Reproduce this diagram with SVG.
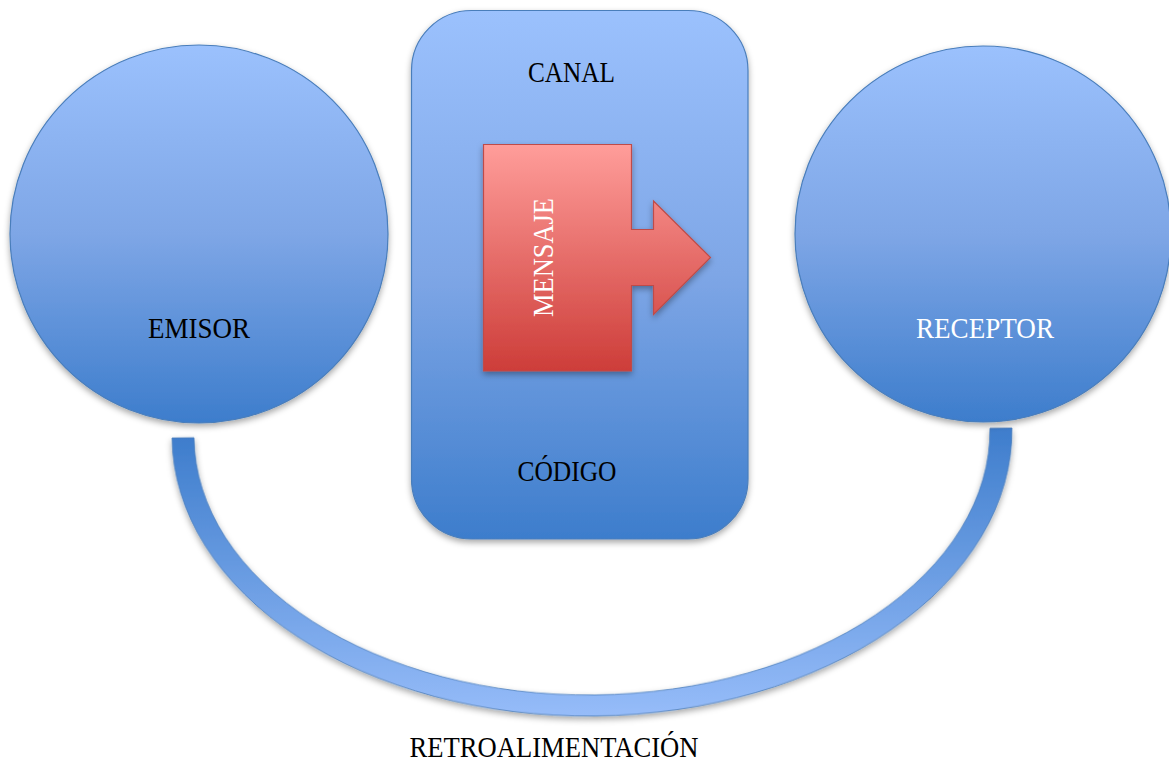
<svg xmlns="http://www.w3.org/2000/svg" width="1169" height="764" viewBox="0 0 1169 764">
<defs>
<linearGradient id="blue" x1="0" y1="0" x2="0" y2="1">
<stop offset="0" stop-color="#9bc1fd"/>
<stop offset="0.5" stop-color="#7ea6e6"/>
<stop offset="1" stop-color="#3d7dcc"/>
</linearGradient>
<linearGradient id="band" x1="0" y1="0" x2="0" y2="1">
<stop offset="0" stop-color="#3e7dcc"/>
<stop offset="1" stop-color="#96bcf9"/>
</linearGradient>
<linearGradient id="red" x1="0" y1="0" x2="0" y2="1">
<stop offset="0" stop-color="#ff9d9a"/>
<stop offset="1" stop-color="#cd3d39"/>
</linearGradient>
<filter id="sh" x="-10%" y="-10%" width="120%" height="125%">
<feDropShadow dx="0" dy="3" stdDeviation="3" flood-color="#000" flood-opacity="0.35"/>
</filter>
</defs>
<style>
.node{stroke:#4a7ebb;stroke-width:1.2;fill:url(#blue);filter:url(#sh)}
.lbl{font-family:"Liberation Serif","DejaVu Serif",serif;font-size:30px;text-anchor:middle;fill:#000}
.w{fill:#fff}
</style>
<g id="connectors">
<path d="M 172 433 A 420 283 0 0 0 1012 433 L 990 433 A 398 262 0 0 1 194 433 Z" transform="rotate(-0.68 592 433)" fill="url(#band)" stroke="#4a7ebb" stroke-width="0.8" filter="url(#sh)"/>
</g>
<g id="emisor">
<circle class="node" cx="199" cy="234" r="189"/>
<text class="lbl" x="199" y="338" textLength="102" lengthAdjust="spacingAndGlyphs">EMISOR</text>
</g>
<g id="receptor">
<circle class="node" cx="983" cy="234" r="188"/>
<text class="lbl w" x="985" y="338" textLength="138" lengthAdjust="spacingAndGlyphs">RECEPTOR</text>
</g>
<g id="canal">
<rect class="node" x="411.5" y="10.5" width="336.5" height="528.5" rx="60" ry="60"/>
<text class="lbl" x="571.5" y="82" textLength="87" lengthAdjust="spacingAndGlyphs">CANAL</text>
<text class="lbl" x="567" y="481" textLength="99" lengthAdjust="spacingAndGlyphs">CÓDIGO</text>
</g>
<g id="mensaje">
<path d="M 483.5 144.5 L 631.5 144.5 L 631.5 229.5 L 653.5 229.5 L 653.5 201 L 710.5 257.5 L 653.5 314.5 L 653.5 285.5 L 631.5 285.5 L 631.5 371 L 483.5 371 Z" fill="url(#red)" stroke="#be4b48" stroke-width="1.2" filter="url(#sh)"/>
<text class="lbl w" transform="translate(552.5 257.5) rotate(-90)" x="0" y="0" textLength="119" lengthAdjust="spacingAndGlyphs">MENSAJE</text>
</g>
<g id="retroalimentacion">
<text class="lbl" x="554" y="757" textLength="289" lengthAdjust="spacingAndGlyphs">RETROALIMENTACIÓN</text>
</g>
</svg>
